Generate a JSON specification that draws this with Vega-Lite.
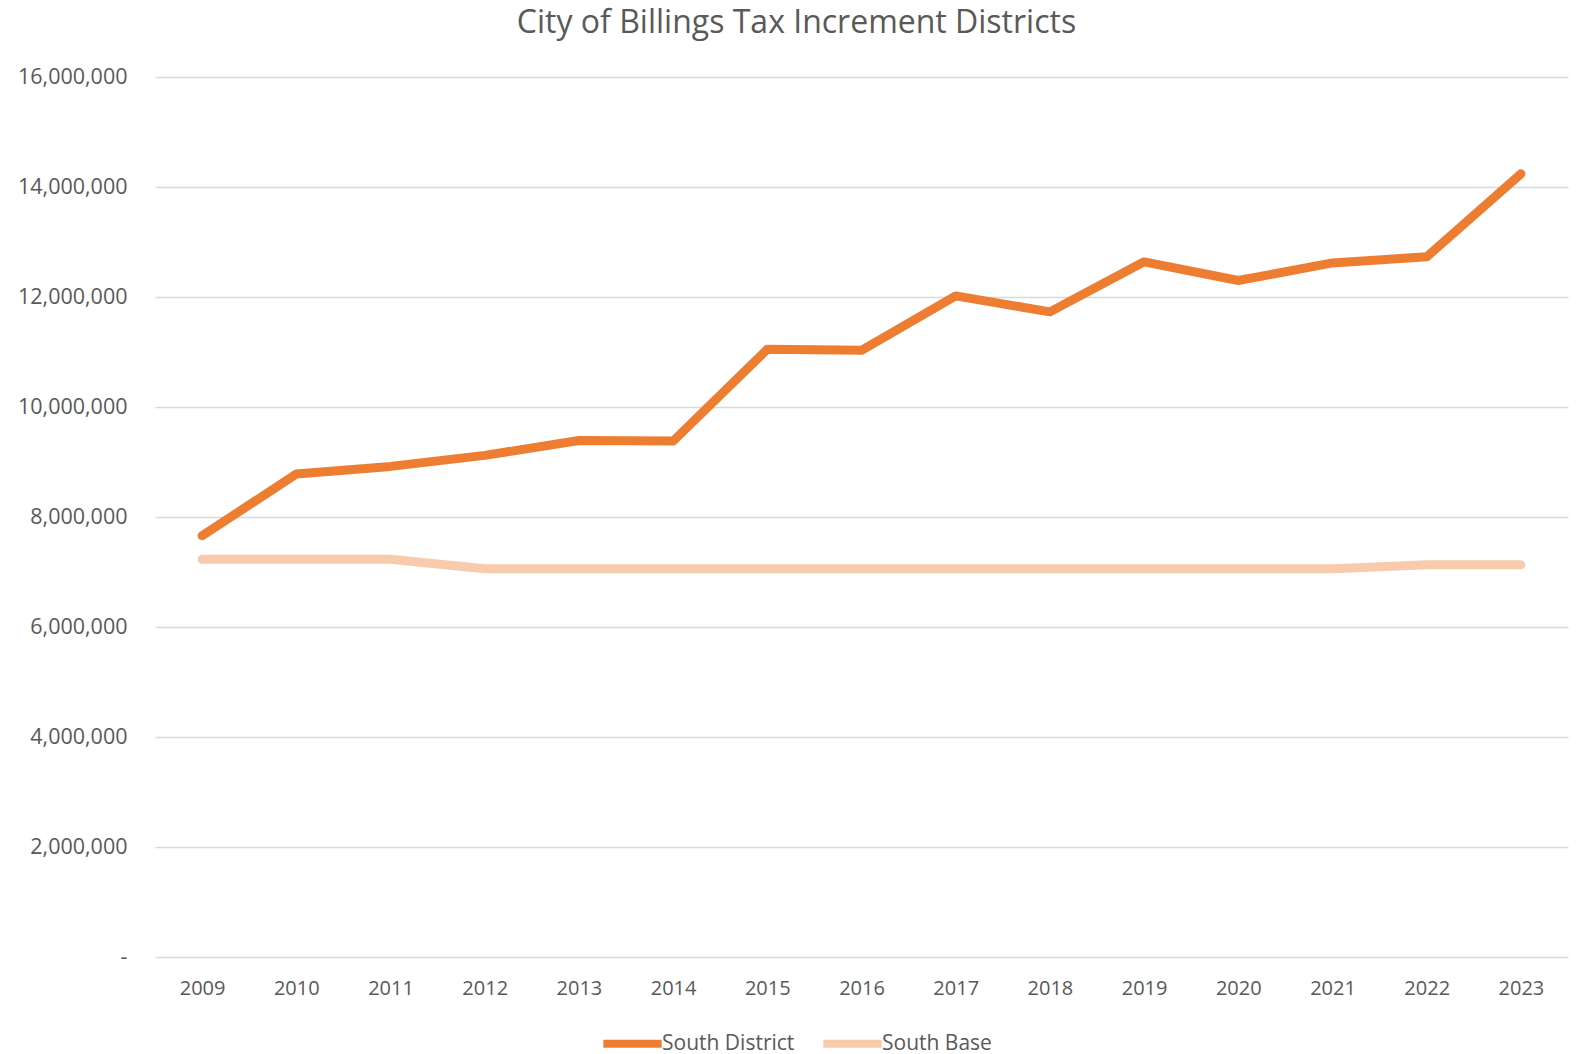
{
  "$schema": "https://vega.github.io/schema/vega-lite/v6.json",
  "autosize": {"type": "none"},
  "width": 1413,
  "height": 880,
  "padding": {"left": 155, "top": 77, "right": 10, "bottom": 97},
  "background": "white",
  "config": {"view": {"stroke": null}, "font": "Open Sans"},
  "title": {
    "text": "City of Billings Tax Increment Districts",
    "fontSize": 32,
    "fontWeight": "normal",
    "color": "#595959",
    "anchor": "middle",
    "frame": "group",
    "dx": -65,
    "baseline": "middle",
    "offset": 11
  },
  "data": {
    "values": [
      {"year": "2009", "series": "South District", "value": 7660000},
      {"year": "2010", "series": "South District", "value": 8780000},
      {"year": "2011", "series": "South District", "value": 8920000},
      {"year": "2012", "series": "South District", "value": 9120000},
      {"year": "2013", "series": "South District", "value": 9390000},
      {"year": "2014", "series": "South District", "value": 9380000},
      {"year": "2015", "series": "South District", "value": 11050000},
      {"year": "2016", "series": "South District", "value": 11030000},
      {"year": "2017", "series": "South District", "value": 12020000},
      {"year": "2018", "series": "South District", "value": 11730000},
      {"year": "2019", "series": "South District", "value": 12640000},
      {"year": "2020", "series": "South District", "value": 12300000},
      {"year": "2021", "series": "South District", "value": 12620000},
      {"year": "2022", "series": "South District", "value": 12730000},
      {"year": "2023", "series": "South District", "value": 14240000},
      {"year": "2009", "series": "South Base", "value": 7230000},
      {"year": "2010", "series": "South Base", "value": 7230000},
      {"year": "2011", "series": "South Base", "value": 7230000},
      {"year": "2012", "series": "South Base", "value": 7060000},
      {"year": "2013", "series": "South Base", "value": 7060000},
      {"year": "2014", "series": "South Base", "value": 7060000},
      {"year": "2015", "series": "South Base", "value": 7060000},
      {"year": "2016", "series": "South Base", "value": 7060000},
      {"year": "2017", "series": "South Base", "value": 7060000},
      {"year": "2018", "series": "South Base", "value": 7060000},
      {"year": "2019", "series": "South Base", "value": 7060000},
      {"year": "2020", "series": "South Base", "value": 7060000},
      {"year": "2021", "series": "South Base", "value": 7060000},
      {"year": "2022", "series": "South Base", "value": 7130000},
      {"year": "2023", "series": "South Base", "value": 7130000}
    ]
  },
  "mark": {"type": "line", "strokeWidth": 9, "strokeCap": "round", "strokeJoin": "round"},
  "encoding": {
    "x": {
      "field": "year",
      "type": "ordinal",
      "scale": {"type": "point", "padding": 0.5},
      "axis": {
        "title": null,
        "labelAngle": 0,
        "labelFontSize": 20,
        "labelColor": "#595959",
        "labelPadding": 21,
        "ticks": false,
        "domain": false,
        "grid": false
      }
    },
    "y": {
      "field": "value",
      "type": "quantitative",
      "scale": {"domain": [0, 16000000], "nice": false},
      "axis": {
        "title": null,
        "values": [0, 2000000, 4000000, 6000000, 8000000, 10000000, 12000000, 14000000, 16000000],
        "labelExpr": "datum.value == 0 ? '-' : format(datum.value, ',.0f')",
        "labelFontSize": 21.5,
        "labelColor": "#595959",
        "labelPadding": 28,
        "ticks": false,
        "domain": false,
        "gridColor": "#D9D9D9",
        "gridWidth": 1.5
      }
    },
    "color": {
      "field": "series",
      "type": "nominal",
      "scale": {"domain": ["South District", "South Base"], "range": ["#ED7D31", "#F8CBAD"]},
      "legend": {
        "title": null,
        "orient": "none",
        "legendX": 444,
        "legendY": 933,
        "direction": "horizontal",
        "symbolType": "stroke",
        "symbolStrokeWidth": 8,
        "symbolSize": 3400,
        "labelFontSize": 21,
        "labelColor": "#595959",
        "labelOffset": -4,
        "columnPadding": 12
      }
    }
  }
}
